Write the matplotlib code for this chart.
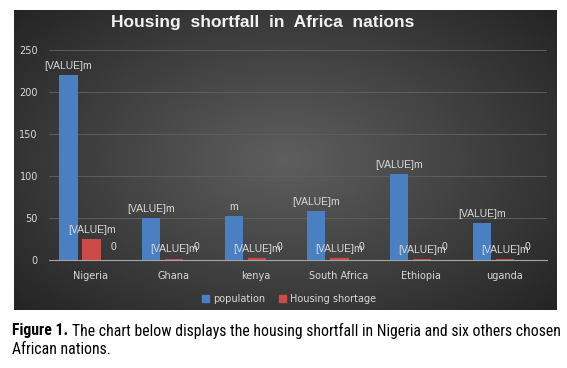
import matplotlib.pyplot as plt
import numpy as np
from matplotlib.patches import Patch
from matplotlib import font_manager as fm

countries = ['Nigeria', 'Ghana', 'kenya', 'South Africa', 'Ethiopia', 'uganda']
population = [220, 50, 52, 58, 102, 44]
housing_shortage = [25, 1.7, 2, 2.3, 1, 1.5]
pop_labels = ['[VALUE]m', '[VALUE]m', 'm', '[VALUE]m', '[VALUE]m', '[VALUE]m']
house_labels = ['[VALUE]m'] * 6
zero_labels = ['0'] * 6
caption_bold = 'Figure 1.'
caption_rest = 'The chart below displays the housing shortfall in Nigeria and six others chosen'
caption_line2 = 'African nations.'

fig = plt.figure(figsize=(5.67, 3.68), dpi=100)

# dark panel with radial gradient
bg = fig.add_axes([14 / 567, (368 - 310) / 368, 543 / 567, 300 / 368])
yy, xx = np.mgrid[-1:1:300j, -1:1:543j]
r = np.sqrt(xx ** 2 + (yy * 0.9) ** 2)
shade = np.clip(0.37 - 0.17 * r, 0.12, 1)
bg.imshow(np.dstack([shade] * 3), aspect='auto', extent=(0, 1, 0, 1))
bg.set_axis_off()

ax = fig.add_axes([49 / 567, (368 - 260) / 368, 498 / 567, 210 / 368])
ax.patch.set_alpha(0)

x = np.arange(len(countries))
w = 0.22
off = 0.14
ax.bar(x - off, population, w, color='#4a7fc1', zorder=3)
ax.bar(x + off, housing_shortage, w, color='#cc4a48', zorder=3)

lab = dict(color='#d9d9d9', fontsize=7.5, ha='center', va='bottom',
           textcoords='offset points', family=['Liberation Sans', 'DejaVu Sans'])
for i in range(len(countries)):
    ax.annotate(pop_labels[i], (x[i] - off, population[i]), xytext=(0, 3), **lab)
    ax.annotate(house_labels[i], (x[i] + off, housing_shortage[i]), xytext=(0, 3), **lab)
    ax.annotate(zero_labels[i], (x[i] + off, 0), xytext=(16, 5.5), **lab)

ax.set_xlim(-0.375, 5.65)
ax.set_ylim(0, 250)
ax.set_yticks([0, 50, 100, 150, 200, 250])
ax.set_xticks(x + 0.13)
ax.set_xticklabels(countries)
ax.tick_params(colors='#d9d9d9', labelsize=7, length=0, pad=8)
ax.yaxis.grid(True, color='#5e5e5e', linewidth=0.7, zorder=0)
for s in ['top', 'right', 'left']:
    ax.spines[s].set_visible(False)
ax.spines['bottom'].set_color('#a6a6a6')
ax.spines['bottom'].set_linewidth(0.8)

fig.text(263 / 567, (368 - 22) / 368, 'Housing  shortfall  in  Africa  nations',
         color='#f2f2f2', fontsize=12.5, fontweight='bold', ha='center', va='center',
         family=['Liberation Sans', 'DejaVu Sans'])

handles = [Patch(color='#4a7fc1'), Patch(color='#cc4a48')]
fig.legend(handles, ['population', 'Housing shortage'], loc='center',
           bbox_to_anchor=(0.51, (368 - 299) / 368), ncol=2, frameon=False,
           fontsize=7, labelcolor='#d9d9d9', handlelength=0.7, handleheight=0.7,
           handletextpad=0.4, columnspacing=1.5)

# caption: prefer a condensed face if one is installed
names = {f.name for f in fm.fontManager.ttflist}
cap_family, cap_stretch = 'Roboto', 'normal'
for cand in ['Liberation Sans Narrow', 'Roboto Condensed', 'DejaVu Sans Condensed']:
    if cand in names:
        cap_family = cand
        break
else:
    if any(f.name == 'DejaVu Sans' and f.stretch not in ('normal', 500) for f in fm.fontManager.ttflist):
        cap_family, cap_stretch = 'DejaVu Sans', 'condensed'

size = 10.5
y1, y2 = (368 - 331) / 368, (368 - 349) / 368
for _ in range(3):
    for t in fig.texts[1:]:
        t.remove()
    t1 = fig.text(12 / 567, y1, caption_bold, fontsize=size, fontweight='bold',
                  family=cap_family, fontstretch=cap_stretch, va='center')
    fig.canvas.draw()
    bb = t1.get_window_extent()
    t2 = fig.text((bb.x1 + 4) / 567, y1, caption_rest, fontsize=size,
                  family=cap_family, fontstretch=cap_stretch, va='center')
    fig.canvas.draw()
    width = t2.get_window_extent().x1 - 12
    size = size * 548 / width
t3 = fig.text(12 / 567, y2, caption_line2, fontsize=t2.get_fontsize(),
              family=cap_family, fontstretch=cap_stretch, va='center')

fig.savefig('out.png', dpi=100)
